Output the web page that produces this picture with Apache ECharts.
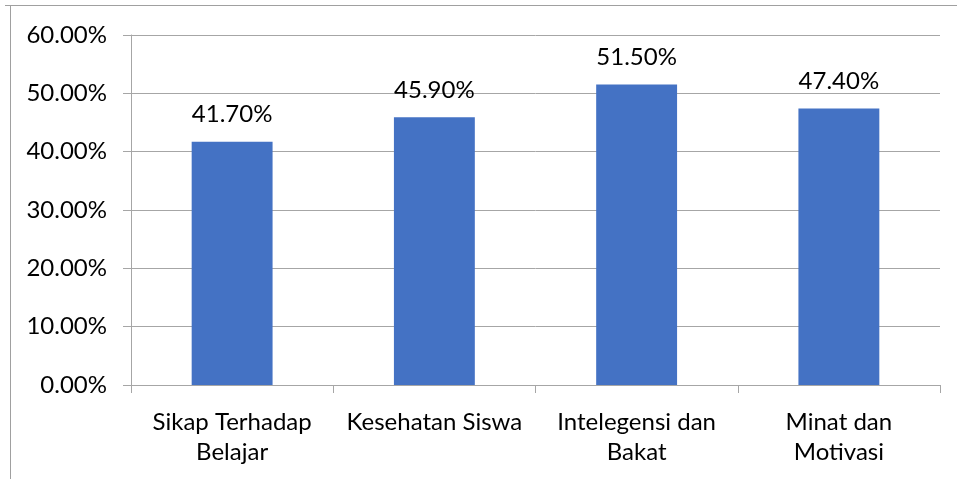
<!DOCTYPE html>
<html>
<head>
<meta charset="utf-8">
<script src="https://cdn.jsdelivr.net/npm/echarts@6/dist/echarts.min.js"></script>
<style>
  html, body { margin: 0; padding: 0; background: #fff; }
  #chart { width: 957px; height: 479px; }
</style>
</head>
<body>
<div id="chart"></div>
<script>
// カテゴリと値
const categories = ['Sikap Terhadap\nBelajar', 'Kesehatan Siswa', 'Intelegensi dan\nBakat', 'Minat dan\nMotivasi'];
const values = [41.7, 45.9, 51.5, 47.4];
const yTicks = [0, 10, 20, 30, 40, 50, 60];

const font = 'Lato, "Noto Sans", sans-serif';
const myChart = echarts.init(document.getElementById('chart'));

myChart.setOption({
  animation: false,
  textStyle: { fontFamily: font },
  // 外枠
  graphic: [
    { type: 'line', shape: { x1: 5, y1: 5.5, x2: 957, y2: 5.5 }, style: { stroke: '#a0a0a0', lineWidth: 1 } },
    { type: 'line', shape: { x1: 10.5, y1: 5, x2: 10.5, y2: 479 }, style: { stroke: '#a0a0a0', lineWidth: 1 } }
  ],
  grid: { left: 131, right: 17, top: 35, bottom: 94 },
  xAxis: {
    type: 'category',
    data: categories,
    axisLine: { lineStyle: { color: '#a6a6a6' } },
    axisTick: { show: true, length: 8, lineStyle: { color: '#a6a6a6' } },
    axisLabel: { interval: 0, color: '#000', fontSize: 24, lineHeight: 30, margin: 22, fontFamily: font }
  },
  yAxis: {
    type: 'value',
    min: yTicks[0],
    max: yTicks[yTicks.length - 1],
    interval: 10,
    axisLine: { show: true, lineStyle: { color: '#a6a6a6' } },
    axisTick: { show: true, length: 8, lineStyle: { color: '#a6a6a6' } },
    splitLine: { lineStyle: { color: '#a6a6a6' } },
    axisLabel: {
      color: '#000', fontSize: 24, margin: 24, fontFamily: font,
      formatter: v => v.toFixed(2) + '%'
    }
  },
  series: [{
    type: 'bar',
    data: values,
    barWidth: '40%',
    itemStyle: { color: '#4472c4' },
    label: {
      show: true,
      position: 'top',
      distance: 15,
      color: '#000',
      fontSize: 24,
      fontFamily: font,
      formatter: p => p.value.toFixed(2) + '%'
    }
  }]
});
</script>
</body>
</html>
